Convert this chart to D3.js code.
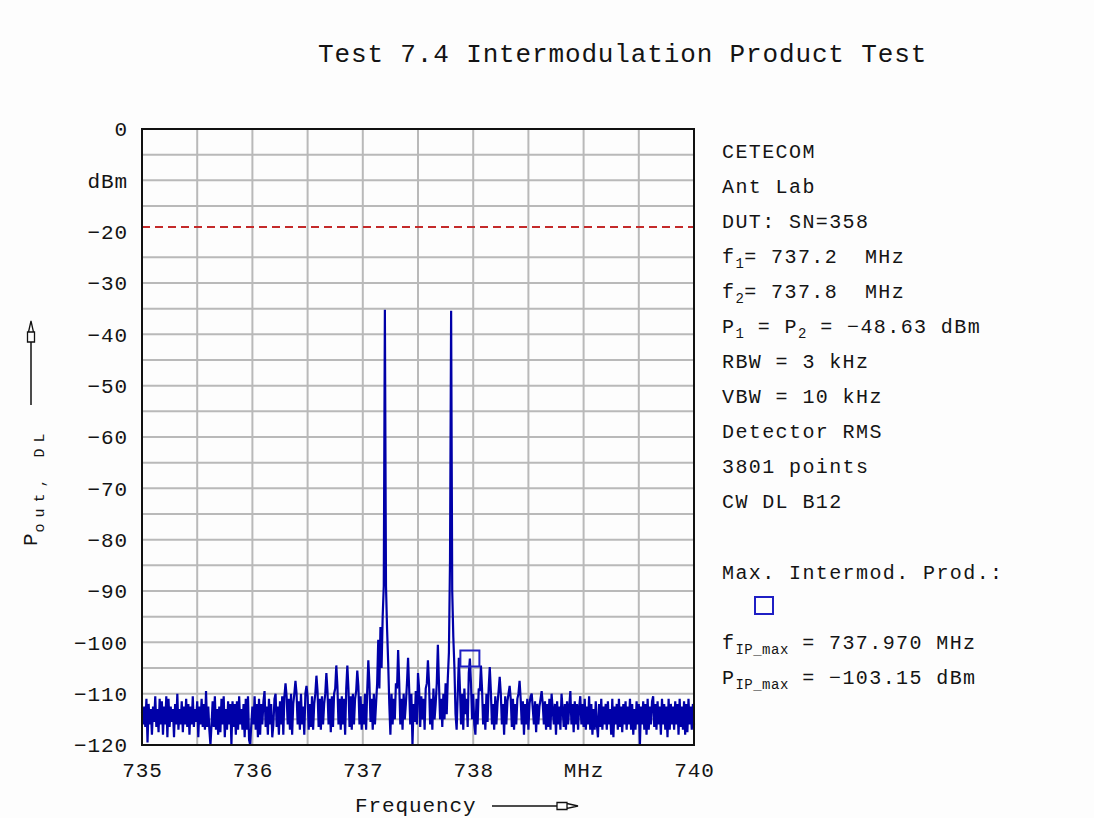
<!DOCTYPE html>
<html>
<head>
<meta charset="utf-8">
<script src="https://cdn.jsdelivr.net/npm/d3@7"></script>
<style>
  html, body { margin: 0; padding: 0; background: #fdfdfd; }
  svg { display: block; }
  text { font-family: "Liberation Mono", "DejaVu Sans Mono", monospace; fill: #141414; white-space: pre; }
</style>
</head>
<body>
<svg id="chart" width="1094" height="818"></svg>
<script>
// ---- data -------------------------------------------------------------
const title = "Test 7.4 Intermodulation Product Test";

// spectrum trace, 735.00 ... 740.00 MHz in 0.01 MHz steps (dBm)
const freqStart = 735;
const freqStep = 0.01;
const trace = [
  // 735.00
  -113.5,-116,-112.5,-116.5,-111,-119.5,-112,-116,-113,-118,-112.5,-115.5,-110.5,-116.5,-113,-117.5,-111,-116,-111.5,-118,
  // 735.20
  -112.5,-116,-110.5,-118.5,-111,-116.5,-112.5,-115.5,-113,-118.5,-112,-116,-110,-117,-113,-116,-111.5,-117.5,-112.5,-116,
  // 735.40
  -111,-116.5,-112,-118,-112.5,-116,-110.5,-116.5,-113,-115.5,-111.5,-118.5,-112.5,-116,-111,-116.5,-112,-117,-109.5,-116.5,
  // 735.60
  -112.5,-117,-120,-116,-111.5,-116.5,-110.5,-117,-113,-118,-112.5,-117.5,-111,-116,-110.5,-118.5,-113,-117,-111.5,-116,
  // 735.80
  -112,-120,-111.5,-116.5,-112,-118,-111.5,-117,-110.5,-116,-113,-117,-112,-118.5,-111,-117,-110.5,-119,-120,-116,
  // 736.00
  -112.5,-116,-110.5,-117,-112,-118.5,-111,-118,-112,-116,-111.5,-109.5,-116.5,-112.5,-118,-111,-116,-112,-118.5,-116,
  // 736.20
  -111,-110,-116.5,-112.5,-118,-111.5,-116,-110.5,-118,-110.5,-108,-110.5,-116,-111,-117,-110,-118,-112,-110,-107.5,
  // 736.40
  -110,-116,-111.5,-117,-110,-116,-112.5,-118,-110,-108.5,-110.5,-117,-112,-116.5,-110.5,-117,-112,-110,-106.5,-109.5,
  // 736.60
  -116.5,-111,-117,-110.5,-116,-112,-110,-106,-109.5,-116,-111,-117.5,-110.5,-116.5,-110,-109,-104.5,-108.5,-116,-111,
  // 736.80
  -117,-110.5,-116,-111,-118,-109,-104.5,-109,-116.5,-110.5,-117,-110,-116,-111,-109.5,-105.5,-108.5,-116,-110.5,-117,
  // 737.00
  -112,-116,-110,-117,-109.5,-103.5,-108,-115.5,-111,-117,-110,-116,-112,-108,-99.5,-109,-97,-105,-95,-89,
  // 737.20
  -35.2,-89,-97.5,-104,-112,-118,-110,-116,-111,-115,-108,-109,-101.5,-108,-116,-111,-117,-110,-115,-112,
  // 737.40
  -108,-103,-109,-116,-110,-120,-112,-115.5,-109.5,-116,-106,-109,-116.5,-110.5,-115,-111,-117,-109,-108,-103.5,
  // 737.60
  -108,-116,-111,-117,-109,-115,-112,-108,-100.5,-108,-115,-111,-116.5,-110,-115,-108,-114,-107,-102,-84,
  // 737.80
  -35.4,-90,-99,-105,-114,-117,-110,-103,-109,-116,-110,-117,-109,-114,-111,-116.5,-106,-103.15,-108,-115,
  // 738.00
  -110,-116,-118,-111,-116,-109,-109.5,-104.5,-109,-116,-112,-117,-110,-115.5,-109,-104.8,-109.5,-116,-112,-117,
  // 738.20
  -110.5,-116,-112,-109.5,-106.7,-110,-116,-112,-118,-110.5,-116,-111.5,-110,-108.5,-111,-116.5,-111,-117,-112,-116,
  // 738.40
  -111,-110,-107.5,-111,-116,-111.5,-118,-112,-116,-111,-117,-112,-110.5,-110,-113,-116,-111.5,-117.5,-112,-116,
  // 738.60
  -112.5,-111,-109.5,-112,-116,-111.5,-117,-112,-116.5,-111,-117,-110,-113,-116,-112,-118,-111.5,-116,-112.5,-117,
  // 738.80
  -110,-113,-116.5,-112,-117,-111.5,-116,-112.5,-109.5,-116,-112,-117.5,-111.5,-116,-112,-117,-112.5,-110.5,-116,-112,
  // 739.00
  -116.5,-111,-117,-112.5,-116,-110.5,-117,-112,-118,-113,-117,-111.5,-116,-118.5,-112,-116.5,-111,-117,-112.5,-116,
  // 739.20
  -112,-117,-111.5,-116,-113,-118,-111,-118.5,-112.5,-116,-112,-117,-111,-116.5,-112.5,-117.5,-112,-116,-111.5,-117,
  // 739.40
  -112.5,-116,-111,-117,-112,-118,-113,-117,-111.5,-116,-112,-120,-112.5,-116,-111.5,-117,-112,-118,-111,-117,
  // 739.60
  -112.5,-116,-111.5,-110.5,-116.5,-112,-117,-111.5,-116,-112.5,-118,-111,-116,-112,-117,-112.5,-118.5,-111,-117,-112,
  // 739.80
  -116,-112.5,-117,-111.5,-116,-112,-118,-111,-116.5,-112.5,-117,-111.5,-118,-112,-117.5,-111,-116,-112.5,-117,-112,
  // 740.00
  -116
];

const limitLevel = -19.1;                       // dashed limit line (dBm)
const ipMax = { freq: 737.970, level: -103.15 }; // marked intermod product

const yTicks = [0, -10, -20, -30, -40, -50, -60, -70, -80, -90, -100, -110, -120];
const yTickLabels = ["0", "dBm", "−20", "−30", "−40", "−50", "−60", "−70", "−80", "−90", "−100", "−110", "−120"];
const xTicks = [735, 736, 737, 738, 739, 740];
const xTickLabels = ["735", "736", "737", "738", "MHz", "740"];

const infoLines = [
  "CETECOM",
  "Ant Lab",
  "DUT: SN=358",
  "f_{1}= 737.2  MHz",
  "f_{2}= 737.8  MHz",
  "P_{1} = P_{2} = −48.63 dBm",
  "RBW = 3 kHz",
  "VBW = 10 kHz",
  "Detector RMS",
  "3801 points",
  "CW DL B12"
];
const ipHeading = "Max. Intermod. Prod.:";
const ipLines = ["f_{IP_max} = 737.970 MHz", "P_{IP_max} = −103.15 dBm"];
const yAxisTitle = { main: "P", sub: "out, DL" };
const xAxisTitle = "Frequency";

// ---- layout -----------------------------------------------------------
const svg = d3.select("#chart");
const plot = { left: 142, right: 694, top: 129, bottom: 745 };

const x = d3.scaleLinear().domain([735, 740]).range([plot.left, plot.right]);
const y = d3.scaleLinear().domain([-120, 0]).range([plot.bottom, plot.top]);

const traceColor = "#0000a8";
const markerColor = "#1f1fc4";
const gridColor = "#b9b9b9";

// title
svg.append("text")
  .attr("x", 318).attr("y", 62)
  .style("font-size", "26px").style("letter-spacing", "0.86px")
  .text(title);

// grid
const grid = svg.append("g");
grid.selectAll("line.v")
  .data(d3.range(735.5, 740, 0.5))
  .join("line")
  .attr("x1", d => x(d)).attr("x2", d => x(d))
  .attr("y1", plot.top).attr("y2", plot.bottom)
  .attr("stroke", gridColor).attr("stroke-width", 2);
// horizontal rows every 5 dB; the limit line takes the place of the -20 row
grid.selectAll("line.h")
  .data(d3.range(-115, 0, 5).filter(d => d !== -20))
  .join("line")
  .attr("x1", plot.left).attr("x2", plot.right)
  .attr("y1", d => y(d)).attr("y2", d => y(d))
  .attr("stroke", gridColor).attr("stroke-width", 2);

// limit line
svg.append("line")
  .attr("x1", plot.left).attr("x2", plot.right)
  .attr("y1", y(limitLevel)).attr("y2", y(limitLevel))
  .attr("stroke", "#c42a2a").attr("stroke-width", 2)
  .attr("stroke-dasharray", "8,5");

// spectrum trace
const line = d3.line()
  .x((d, i) => x(freqStart + i * freqStep))
  .y(d => y(d));
svg.append("path")
  .datum(trace)
  .attr("d", line)
  .attr("fill", "none")
  .attr("stroke", traceColor)
  .attr("stroke-width", 2.2)
  .attr("stroke-linejoin", "miter");

// marker on the strongest intermod product
svg.append("rect")
  .attr("x", x(ipMax.freq) - 9.5).attr("y", y(ipMax.level) - 8)
  .attr("width", 19).attr("height", 16)
  .attr("fill", "none").attr("stroke", markerColor).attr("stroke-width", 2);

// frame
svg.append("rect")
  .attr("x", plot.left).attr("y", plot.top)
  .attr("width", plot.right - plot.left).attr("height", plot.bottom - plot.top)
  .attr("fill", "none").attr("stroke", "#111").attr("stroke-width", 2);

// axes (labels only)
const yAxis = d3.axisLeft(y).tickValues(yTicks)
  .tickFormat((d, i) => yTickLabels[i]).tickSize(0).tickPadding(14);
const gy = svg.append("g").attr("transform", `translate(${plot.left},0)`).call(yAxis);
const xAxis = d3.axisBottom(x).tickValues(xTicks)
  .tickFormat((d, i) => xTickLabels[i]).tickSize(0).tickPadding(17);
const gx = svg.append("g").attr("transform", `translate(0,${plot.bottom})`).call(xAxis);
[gy, gx].forEach(g => {
  g.select(".domain").remove();
  g.selectAll("text")
    .style("font-family", "\"Liberation Mono\", \"DejaVu Sans Mono\", monospace")
    .style("font-size", "21px").style("letter-spacing", "0.9px")
    .attr("fill", "#141414");
});

// hollow arrow head pointing along +x in local coordinates
const arrowHead = "M0,-3.5 L10,-3.5 L10,3.5 L0,3.5 Z M10,-2.5 L21,0 L10,2.5 Z";

// x axis title with arrow
svg.append("text")
  .attr("x", 355).attr("y", 812)
  .style("font-size", "21px").style("letter-spacing", "0.9px")
  .text(xAxisTitle);
svg.append("line").attr("x1", 492).attr("x2", 557).attr("y1", 806).attr("y2", 806)
  .attr("stroke", "#111").attr("stroke-width", 1.5);
svg.append("path").attr("d", arrowHead)
  .attr("transform", "translate(557,806)")
  .attr("fill", "#fdfdfd").attr("stroke", "#111").attr("stroke-width", 1.3);

// y axis title with arrow
const yt = svg.append("text")
  .attr("transform", "translate(37,546) rotate(-90)")
  .style("font-size", "21px");
yt.append("tspan").text(yAxisTitle.main);
yt.append("tspan").attr("dy", 7).attr("dx", 1)
  .style("font-size", "15px").style("letter-spacing", "6px")
  .text(yAxisTitle.sub);
svg.append("line").attr("x1", 31).attr("x2", 31).attr("y1", 405).attr("y2", 342)
  .attr("stroke", "#111").attr("stroke-width", 1.5);
svg.append("path").attr("d", arrowHead)
  .attr("transform", "translate(31,342) rotate(-90)")
  .attr("fill", "#fdfdfd").attr("stroke", "#111").attr("stroke-width", 1.3);

// info panel
function richText(sel, str) {
  const parts = str.split(/(_\{[^}]*\})/).filter(s => s.length);
  let shifted = false;
  parts.forEach(p => {
    const m = p.match(/^_\{([^}]*)\}$/);
    if (m) {
      sel.append("tspan").attr("dy", shifted ? 0 : 5)
        .style("font-size", "14px").style("letter-spacing", "0.5px").text(m[1]);
      shifted = true;
    } else {
      sel.append("tspan").attr("dy", shifted ? -5 : 0).text(p);
      shifted = false;
    }
  });
}

const panel = svg.append("g")
  .style("font-size", "20px").style("letter-spacing", "1.4px");
infoLines.forEach((s, i) => {
  richText(panel.append("text").attr("x", 722).attr("y", 158 + i * 35), s);
});
panel.append("text").attr("x", 722).attr("y", 578.5).text(ipHeading);
svg.append("rect")
  .attr("x", 755).attr("y", 597).attr("width", 18).attr("height", 17)
  .attr("fill", "none").attr("stroke", markerColor).attr("stroke-width", 2);
ipLines.forEach((s, i) => {
  richText(panel.append("text").attr("x", 722).attr("y", 648.5 + i * 35), s);
});
</script>
</body>
</html>
